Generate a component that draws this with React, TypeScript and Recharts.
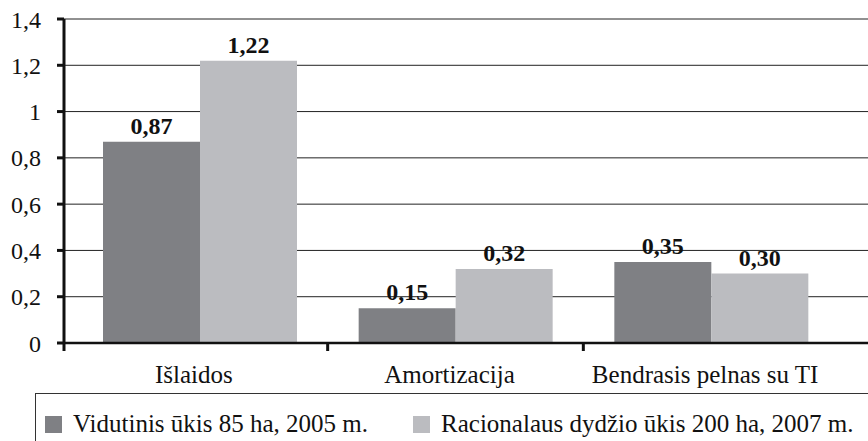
import { BarChart, Bar, XAxis, YAxis, CartesianGrid, Legend, LabelList } from 'recharts';

const categories = ['Išlaidos', 'Amortizacija', 'Bendrasis pelnas su TI'];
const farm2005 = [0.87, 0.15, 0.35];
const farm2200 = [1.22, 0.32, 0.3];
const yTicks = [0, 0.2, 0.4, 0.6, 0.8, 1, 1.2, 1.4];

const SERIES = [
  { key: 'a', name: 'Vidutinis ūkis 85 ha, 2005 m.', color: '#7f8084' },
  { key: 'b', name: 'Racionalaus dydžio ūkis 200 ha, 2007 m.', color: '#bbbcc0' },
];

const FONT = 'Liberation Serif, DejaVu Serif, serif';

const data = categories.map((name, i) => ({ name, a: farm2005[i], b: farm2200[i] }));

const fmt = (v: number) => (v === 0 || v === 1 ? String(v) : v.toFixed(1).replace('.', ','));
const fmtLabel = (v: number) => v.toFixed(2).replace('.', ',');

// plot spans 64..868, categories are padded inside it
const PAD_L = 8;
const PAD_R = 29;
const BAND = (868 - 64 - PAD_L - PAD_R) / categories.length;

function XTick(props: any) {
  const { x, y, payload, index } = props;
  const tx = index === 0 ? x - BAND / 2 - PAD_L : x - BAND / 2;
  return (
    <g>
      <line x1={tx} x2={tx} y1={y - 8} y2={y} stroke="#111" strokeWidth={3} />
      <text x={x - 6} y={y + 32} textAnchor="middle" fontFamily={FONT} fontSize={25} fill="#111">
        {payload.value}
      </text>
    </g>
  );
}

function LegendBox() {
  return (
    <div
      style={{
        position: 'absolute',
        left: 35,
        top: 393,
        width: 860,
        height: 60,
        borderTop: '1.5px solid #333',
        borderLeft: '1.5px solid #333',
        fontFamily: FONT,
        fontSize: 25,
        color: '#111',
        display: 'flex',
        alignItems: 'flex-start',
        boxSizing: 'border-box',
      }}
    >
      {SERIES.map((s, i) => (
        <div
          key={s.key}
          style={{ display: 'flex', alignItems: 'center', marginLeft: i === 0 ? 9 : 45, marginTop: 16 }}
        >
          <span style={{ width: 17, height: 17, background: s.color, display: 'inline-block', marginRight: 11 }} />
          <span>{s.name}</span>
        </div>
      ))}
    </div>
  );
}

export default function App() {
  return (
    <div style={{ position: 'absolute', left: 0, top: 0, width: 868, height: 441, overflow: 'hidden', background: '#fff' }}>
      <BarChart
        width={868}
        height={441}
        data={data}
        margin={{ top: 19, right: 0, left: 0, bottom: 48 }}
        barCategoryGap={31}
        barGap={0}
      >
        <CartesianGrid vertical={false} stroke="#222" strokeWidth={1} />
        <XAxis
          dataKey="name"
          height={50}
          padding={{ left: PAD_L, right: PAD_R }}
          axisLine={{ stroke: '#111', strokeWidth: 2.5 }}
          tickLine={false}
          tick={<XTick />}
          interval={0}
        />
        <YAxis
          width={64}
          domain={[0, 1.4]}
          ticks={yTicks}
          tickFormatter={fmt}
          axisLine={{ stroke: '#111', strokeWidth: 3 }}
          tickLine={{ stroke: '#111', strokeWidth: 3 }}
          tickSize={7}
          tickMargin={16}
          tick={{ fontFamily: FONT, fontSize: 24, fill: '#111' }}
        />
        <Legend content={() => null} />
        {SERIES.map((s) => (
          <Bar key={s.key} dataKey={s.key} name={s.name} fill={s.color} isAnimationActive={false}>
            <LabelList
              dataKey={s.key}
              position="top"
              offset={8}
              formatter={fmtLabel}
              style={{ fontFamily: FONT, fontSize: 24, fontWeight: 'bold', fill: '#111' }}
            />
          </Bar>
        ))}
      </BarChart>
      <LegendBox />
    </div>
  );
}
